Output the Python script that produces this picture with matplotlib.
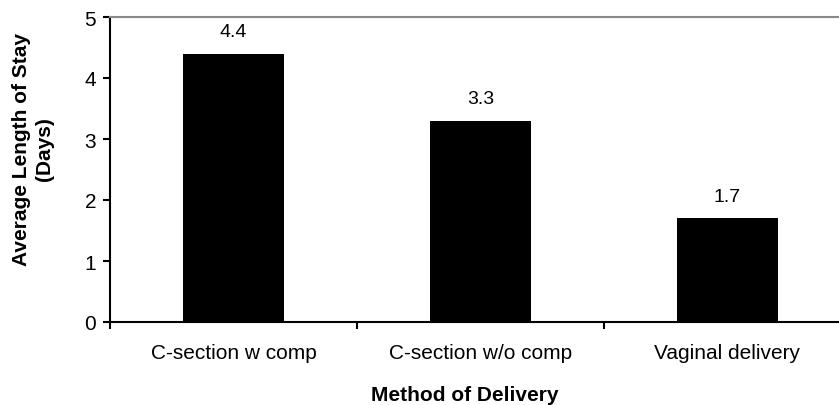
import matplotlib.pyplot as plt
import numpy as np

methods = ["C-section w comp", "C-section w/o comp", "Vaginal delivery"]
avg_stay = [4.4, 3.3, 1.7]

plt.rcParams["font.family"] = ["Liberation Sans", "DejaVu Sans"]

fig = plt.figure(figsize=(8.39, 4.06), dpi=100)
ax = fig.add_axes([110 / 839, 83 / 406, 741 / 839, 305 / 406])

x = np.arange(len(methods))
ax.bar(x, avg_stay, width=0.41, color="black")
for xi, v in zip(x, avg_stay):
    ax.annotate(f"{v}", (xi, v), xytext=(0, 16), textcoords="offset points",
                ha="center", va="center", fontsize=14)

ax.set_xlim(-0.5, len(methods) - 0.5)
ax.set_ylim(0, 5)
ax.set_yticks(range(6))

# category labels in the middle, tick marks on the boundaries
ax.set_xticks(x)
ax.set_xticklabels(methods, fontsize=15)
ax.tick_params(axis="x", which="major", length=0, pad=15)
ax.set_xticks(np.arange(len(methods) + 1) - 0.5, minor=True)
ax.tick_params(axis="x", which="minor", length=5, width=1.5, direction="out")
ax.tick_params(axis="y", length=5, width=1.5, labelsize=15, pad=5)

ax.spines["right"].set_visible(False)
ax.spines["top"].set_color("#888888")
ax.spines["top"].set_linewidth(1.5)
ax.spines["left"].set_linewidth(1.5)
ax.spines["bottom"].set_linewidth(1.5)

ax.set_xlabel("Method of Delivery", fontsize=15, fontweight="bold")
ax.xaxis.set_label_coords(0.479, -0.205)
ax.set_ylabel("Average Length of Stay\n(Days)", fontsize=15, fontweight="bold",
              linespacing=1.25)
ax.yaxis.set_label_coords(-0.104, 0.57)
ax.yaxis.label.set_verticalalignment("center")

fig.savefig("out.png", dpi=100)
